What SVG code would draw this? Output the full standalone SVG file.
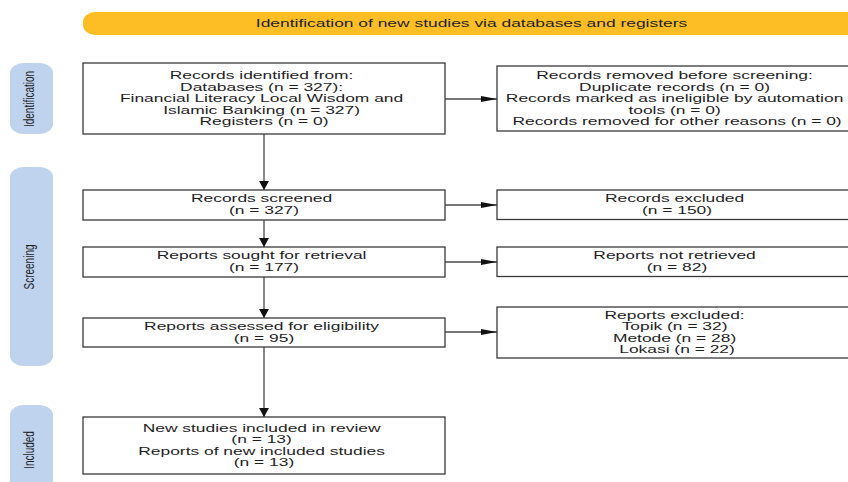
<svg xmlns="http://www.w3.org/2000/svg" width="848" height="482" viewBox="0 0 848 482">
<style>
  .box { fill: #ffffff; stroke: #3a3a3a; stroke-width: 1.3; }
  .t { font-family: "Liberation Sans", Arial, sans-serif; font-size: 10px; fill: #1e1e1e; text-anchor: middle; }
  .pill { fill: #bfd3ef; }
  .conn { stroke: #4a4a4a; stroke-width: 1.3; fill: none; }
</style>
<defs>
  <marker id="ah" markerUnits="userSpaceOnUse" markerWidth="16" markerHeight="8" refX="16" refY="4" orient="auto">
    <path d="M0,1 L16,4 L0,7 Z" fill="#111"/>
  </marker>
  <marker id="av" markerUnits="userSpaceOnUse" markerWidth="10" markerHeight="12" refX="9" refY="6" orient="auto">
    <path d="M0,1 L9,6 L0,11 Z" fill="#111"/>
  </marker>
</defs>

<g id="banner">
  <rect x="83" y="12" width="790" height="23" rx="12" ry="10" fill="#fcbe24"/>
  <text class="t" transform="translate(471.5,0) scale(1.74,1)"><tspan x="0" y="27.5">Identification of new studies via databases and registers</tspan></text>
</g>

<g id="phase-identification">
  <rect class="pill" x="10" y="63" width="43" height="71" rx="14" ry="10"/>
  <text class="t" transform="translate(34,99) scale(1.5,1) rotate(-90)">Identification</text>
</g>
<g id="phase-screening">
  <rect class="pill" x="10" y="167" width="43" height="199" rx="14" ry="10"/>
  <text class="t" transform="translate(34,267) scale(1.5,1) rotate(-90)">Screening</text>
</g>
<g id="phase-included">
  <rect class="pill" x="10" y="405" width="43" height="100" rx="14" ry="10"/>
  <text class="t" transform="translate(34,450) scale(1.5,1) rotate(-90)">Included</text>
</g>

<g id="connectors">
  <line class="conn" x1="445" y1="99" x2="497" y2="99" marker-end="url(#ah)"/>
  <line class="conn" x1="445" y1="205" x2="497" y2="205" marker-end="url(#ah)"/>
  <line class="conn" x1="445" y1="262" x2="497" y2="262" marker-end="url(#ah)"/>
  <line class="conn" x1="445" y1="332" x2="497" y2="332" marker-end="url(#ah)"/>
  <line class="conn" x1="264" y1="134" x2="264" y2="190" marker-end="url(#av)"/>
  <line class="conn" x1="264" y1="220" x2="264" y2="247" marker-end="url(#av)"/>
  <line class="conn" x1="264" y1="277" x2="264" y2="318" marker-end="url(#av)"/>
  <line class="conn" x1="264" y1="347" x2="264" y2="417" marker-end="url(#av)"/>
</g>

<g id="records-identified">
  <rect class="box" x="83" y="63" width="362" height="71"/>
  <text class="t" transform="translate(264,0) scale(1.74,1)">
    <tspan x="0" y="79.5">Records identified from:</tspan>
    <tspan x="0" y="91">Databases (n = 327):</tspan>
    <tspan x="0" y="102.5">Financial Literacy Local Wisdom and</tspan>
    <tspan x="0" y="113.8">Islamic Banking (n = 327)</tspan>
    <tspan x="0" y="125">Registers (n = 0)</tspan>
  </text>
</g>

<g id="records-removed">
  <rect class="box" x="497" y="66" width="362" height="65"/>
  <text class="t" transform="translate(677,0) scale(1.74,1)">
    <tspan x="0" y="79.5">Records removed before screening:</tspan>
    <tspan x="0" y="91">Duplicate records (n = 0)</tspan>
    <tspan x="0" y="102.5">Records marked as ineligible by automation</tspan>
    <tspan x="0" y="113.8">tools (n = 0)</tspan>
    <tspan x="0" y="125">Records removed for other reasons (n = 0)</tspan>
  </text>
</g>

<g id="records-screened">
  <rect class="box" x="83" y="190" width="362" height="30"/>
  <text class="t" transform="translate(264,0) scale(1.74,1)">
    <tspan x="0" y="202.5">Records screened</tspan>
    <tspan x="0" y="214">(n = 327)</tspan>
  </text>
</g>

<g id="records-excluded">
  <rect class="box" x="497" y="190" width="362" height="29.5"/>
  <text class="t" transform="translate(677,0) scale(1.74,1)">
    <tspan x="0" y="202.5">Records excluded</tspan>
    <tspan x="0" y="214">(n = 150)</tspan>
  </text>
</g>

<g id="reports-sought">
  <rect class="box" x="83" y="247" width="362" height="30"/>
  <text class="t" transform="translate(264,0) scale(1.74,1)">
    <tspan x="0" y="259.5">Reports sought for retrieval</tspan>
    <tspan x="0" y="271">(n = 177)</tspan>
  </text>
</g>

<g id="reports-not-retrieved">
  <rect class="box" x="497" y="247" width="362" height="29.5"/>
  <text class="t" transform="translate(677,0) scale(1.74,1)">
    <tspan x="0" y="259.5">Reports not retrieved</tspan>
    <tspan x="0" y="271">(n = 82)</tspan>
  </text>
</g>

<g id="reports-assessed">
  <rect class="box" x="83" y="318" width="362" height="29"/>
  <text class="t" transform="translate(264,0) scale(1.74,1)">
    <tspan x="0" y="330.2">Reports assessed for eligibility</tspan>
    <tspan x="0" y="341.8">(n = 95)</tspan>
  </text>
</g>

<g id="reports-excluded">
  <rect class="box" x="497" y="307" width="362" height="51"/>
  <text class="t" transform="translate(677,0) scale(1.74,1)">
    <tspan x="0" y="318.8">Reports excluded:</tspan>
    <tspan x="0" y="330.2">Topik (n = 32)</tspan>
    <tspan x="0" y="341.8">Metode (n = 28)</tspan>
    <tspan x="0" y="353.5">Lokasi (n = 22)</tspan>
  </text>
</g>

<g id="studies-included">
  <rect class="box" x="83" y="417" width="362" height="57"/>
  <text class="t" transform="translate(264,0) scale(1.74,1)">
    <tspan x="0" y="431.8">New studies included in review</tspan>
    <tspan x="0" y="443.5">(n = 13)</tspan>
    <tspan x="0" y="455.2">Reports of new included studies</tspan>
    <tspan x="0" y="466.5">(n = 13)</tspan>
  </text>
</g>
</svg>
